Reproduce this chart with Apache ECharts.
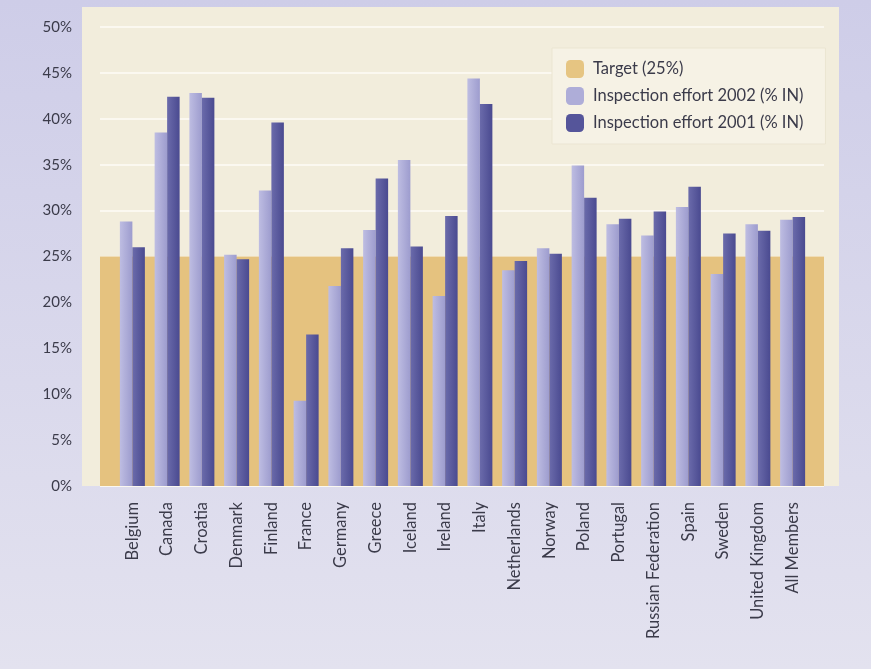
<!DOCTYPE html>
<html>
<head>
<meta charset="utf-8">
<script src="https://cdn.jsdelivr.net/npm/echarts@6/dist/echarts.min.js"></script>
<style>
  html, body { margin: 0; padding: 0; background: #d8d7ec; }
  #chart { width: 871px; height: 669px; }
</style>
</head>
<body>
<div id="chart"></div>
<script>
const categories = ['Belgium','Canada','Croatia','Denmark','Finland','France','Germany','Greece','Iceland','Ireland','Italy','Netherlands','Norway','Poland','Portugal','Russian Federation','Spain','Sweden','United Kingdom','All Members'];
const effort2002 = [28.8, 38.5, 42.8, 25.2, 32.2, 9.3, 21.8, 27.9, 35.5, 20.7, 44.4, 23.5, 25.9, 34.9, 28.5, 27.3, 30.4, 23.1, 28.5, 29.0];
const effort2001 = [26.0, 42.4, 42.3, 24.7, 39.6, 16.5, 25.9, 33.5, 26.1, 29.4, 41.6, 24.5, 25.3, 31.4, 29.1, 29.9, 32.6, 27.5, 27.8, 29.3];
const targetValue = [25];
const yTicks = {min: 0, max: 50, interval: 5};

const FONT = 'Lato, "Open Sans", sans-serif';
const TXT = '#3b3b4a';

const chart = echarts.init(document.getElementById('chart'), null, {renderer: 'canvas'});

function grad(a, b) {
  return new echarts.graphic.LinearGradient(0, 0, 1, 0, [
    {offset: 0, color: a}, {offset: 1, color: b}
  ]);
}

chart.setOption({
  animation: false,
  backgroundColor: new echarts.graphic.LinearGradient(0, 0, 0, 1, [
    {offset: 0, color: '#cecde8'}, {offset: 1, color: '#e3e2ef'}
  ]),
  textStyle: {fontFamily: FONT},
  grid: [
    {left: 82, right: 32, top: 7, bottom: 183, show: true, backgroundColor: '#f2eddc', borderWidth: 0},
    {left: 100, right: 47, top: 27, bottom: 183},
    {left: 115, right: 61, top: 27, bottom: 183}
  ],
  legend: {
    orient: 'vertical',
    left: 552, top: 48,
    padding: [12, 22, 12, 14],
    itemWidth: 18, itemHeight: 18, itemGap: 9,
    backgroundColor: '#f6f2e5',
    borderColor: '#ebe5d2', borderWidth: 1,
    textStyle: {fontFamily: FONT, fontSize: 16.5, color: TXT, padding: [0, 0, 0, 4]},
    data: [
      {name: 'Target (25%)', itemStyle: {color: '#e6c582'}},
      {name: 'Inspection effort 2002 (% IN)', itemStyle: {color: '#aeadd8'}},
      {name: 'Inspection effort 2001 (% IN)', itemStyle: {color: '#55559a'}}
    ]
  },
  xAxis: [
    {gridIndex: 0, type: 'category', data: [''], show: false},
    {gridIndex: 1, type: 'category', data: targetValue.map(() => ''), show: false},
    {gridIndex: 2, type: 'category', data: categories,
      axisLine: {show: false}, axisTick: {show: false},
      axisLabel: {rotate: 90, margin: 16, interval: 0, fontFamily: FONT, fontSize: 16.5, color: TXT}
    }
  ],
  yAxis: [
    {gridIndex: 0, type: 'value', show: false},
    {gridIndex: 1, type: 'value', min: yTicks.min, max: yTicks.max, interval: yTicks.interval,
      axisLine: {show: false}, axisTick: {show: false},
      axisLabel: {formatter: '{value}%', margin: 28, fontFamily: FONT, fontSize: 15, color: TXT},
      splitLine: {show: true, lineStyle: {color: '#fbf8f0', width: 2}}
    },
    {gridIndex: 2, type: 'value', min: yTicks.min, max: yTicks.max, interval: yTicks.interval, show: false,
      splitLine: {show: false}}
  ],
  series: [
    {
      name: 'Target (25%)', type: 'bar', xAxisIndex: 1, yAxisIndex: 1,
      data: targetValue, barWidth: '100%',
      itemStyle: {color: '#e5c27f'}, z: 1
    },
    {
      name: 'Inspection effort 2002 (% IN)', type: 'bar', xAxisIndex: 2, yAxisIndex: 2,
      data: effort2002, barWidth: 12.5, barGap: '0%',
      itemStyle: {color: grad('#bebde2', '#9d9cce')}, z: 3
    },
    {
      name: 'Inspection effort 2001 (% IN)', type: 'bar', xAxisIndex: 2, yAxisIndex: 2,
      data: effort2001, barWidth: 12.5, barGap: '0%',
      itemStyle: {color: grad('#6b6bab', '#4a4a90')}, z: 3
    }
  ]
});
</script>
</body>
</html>
